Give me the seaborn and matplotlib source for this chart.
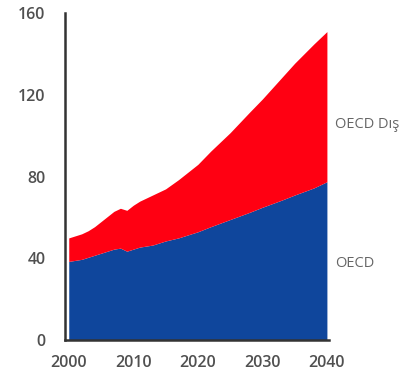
import numpy as np
import pandas as pd
import matplotlib
matplotlib.use("Agg")
import matplotlib.pyplot as plt
import seaborn as sns

years = [2000, 2001, 2002, 2003, 2004, 2005, 2006, 2007, 2008, 2009, 2010, 2011, 2012,
         2013, 2014, 2015, 2017, 2020, 2022, 2025, 2028, 2030, 2033, 2035, 2038, 2040]
oecd = [38.5, 39, 39.5, 40.5, 41.5, 42.5, 43.5, 44.5, 45, 43.5, 44.5, 45.5, 46,
        46.5, 47.5, 48.5, 50, 53, 55.5, 59, 62.5, 65, 68.5, 71, 74.5, 77.5]
non_oecd = [11.5, 12, 12.5, 13, 14, 15.5, 17, 18.5, 19.5, 20, 21.5, 22.5, 23.5,
            24.5, 25, 25.5, 28.5, 33, 37, 42.5, 49, 53, 60, 64.5, 70.5, 73.5]
series_labels = ["OECD", "OECD Dış"]
x_ticks = [2000, 2010, 2020, 2030, 2040]
y_ticks = [0, 40, 80, 120, 160]

df = pd.DataFrame({"year": years, "OECD": oecd, "OECD Dış": non_oecd})

sns.set_theme(style="white")
plt.rcParams["font.family"] = ["Open Sans", "DejaVu Sans"]

fig = plt.figure(figsize=(4.08, 3.77), dpi=100)
ax = fig.add_axes([0.159, 0.098, 0.647, 0.867])

colors = ["#0f469c", "#ff0012"]
ax.stackplot(df["year"], df["OECD"], df["OECD Dış"], colors=colors, linewidth=0)

ax.set_xlim(1999.4, 2040.3)
ax.set_ylim(0, 160)
ax.set_xticks(x_ticks)
ax.set_yticks(y_ticks)
ax.tick_params(axis="both", length=0, labelsize=11.5, labelcolor="#505050")
ax.tick_params(axis="y", pad=14)
ax.tick_params(axis="x", pad=11)
for lab in ax.get_xticklabels() + ax.get_yticklabels():
    lab.set_fontweight("semibold")

sns.despine(ax=ax)
for s in ["left", "bottom"]:
    ax.spines[s].set_color("#333333")
    ax.spines[s].set_linewidth(1.8)

# series labels on the right
ax.text(1.025, 0.66, series_labels[1], transform=ax.transAxes,
        fontsize=10.5, color="#666666", va="center", ha="left", clip_on=False)
ax.text(1.025, 0.235, series_labels[0], transform=ax.transAxes,
        fontsize=10.5, color="#666666", va="center", ha="left", clip_on=False)

fig.savefig("out.png", dpi=100)
